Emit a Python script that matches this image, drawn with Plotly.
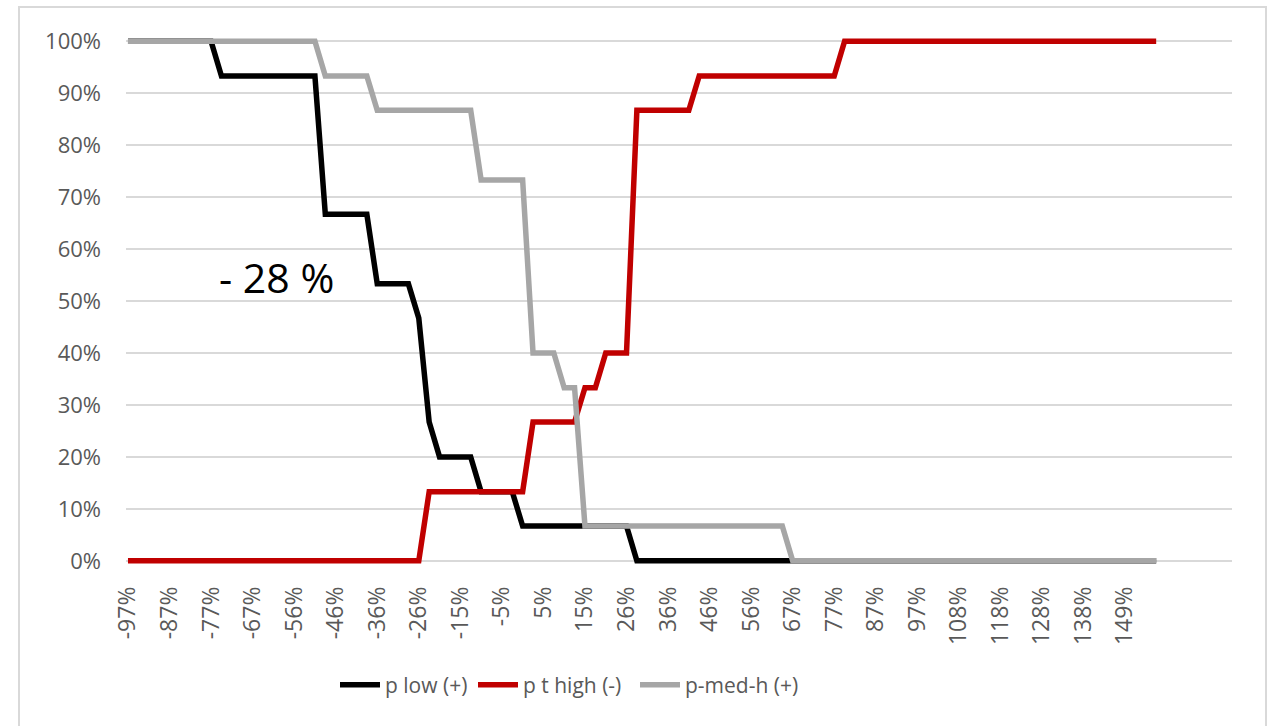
import plotly.graph_objects as go

# Category labels (x values, percent change)
categories = [
    "-97%", "-95%", "-92%", "-90%", "-87%", "-85%", "-82%", "-79%", "-77%", "-74%",
    "-72%", "-69%", "-67%", "-64%", "-62%", "-59%", "-56%", "-54%", "-51%", "-49%",
    "-46%", "-44%", "-41%", "-38%", "-36%", "-33%", "-31%", "-28%", "-26%", "-23%",
    "-21%", "-18%", "-15%", "-13%", "-10%", "-8%", "-5%", "-3%", "0%", "3%",
    "5%", "8%", "10%", "13%", "15%", "18%", "20%", "23%", "26%", "28%",
    "31%", "33%", "36%", "38%", "41%", "44%", "46%", "49%", "51%", "54%",
    "56%", "59%", "61%", "64%", "67%", "69%", "72%", "74%", "77%", "79%",
    "82%", "85%", "87%", "90%", "92%", "95%", "97%", "100%", "102%", "105%",
    "108%", "110%", "113%", "115%", "118%", "120%", "123%", "126%", "128%", "131%",
    "133%", "136%", "138%", "141%", "143%", "146%", "149%", "151%", "154%", "156%",
]

# Tick labels shown on the x axis
tick_labels = [
    "-97%", "-87%", "-77%", "-67%", "-56%", "-46%", "-36%", "-26%", "-15%", "-5%",
    "5%", "15%", "26%", "36%", "46%", "56%", "67%", "77%", "87%", "97%",
    "108%", "118%", "128%", "138%", "149%",
]

p_low = [
    1.0, 1.0, 1.0, 1.0, 1.0, 1.0, 1.0, 1.0, 1.0, 0.933,
    0.933, 0.933, 0.933, 0.933, 0.933, 0.933, 0.933, 0.933, 0.933, 0.667,
    0.667, 0.667, 0.667, 0.667, 0.533, 0.533, 0.533, 0.533, 0.467, 0.267,
    0.2, 0.2, 0.2, 0.2, 0.133, 0.133, 0.133, 0.133, 0.067, 0.067,
    0.067, 0.067, 0.067, 0.067, 0.067, 0.067, 0.067, 0.067, 0.067, 0.0,
    0.0, 0.0, 0.0, 0.0, 0.0, 0.0, 0.0, 0.0, 0.0, 0.0,
    0.0, 0.0, 0.0, 0.0, 0.0, 0.0, 0.0, 0.0, 0.0, 0.0,
    0.0, 0.0, 0.0, 0.0, 0.0, 0.0, 0.0, 0.0, 0.0, 0.0,
    0.0, 0.0, 0.0, 0.0, 0.0, 0.0, 0.0, 0.0, 0.0, 0.0,
    0.0, 0.0, 0.0, 0.0, 0.0, 0.0, 0.0, 0.0, 0.0, 0.0,
]

p_t_high = [
    0.0, 0.0, 0.0, 0.0, 0.0, 0.0, 0.0, 0.0, 0.0, 0.0,
    0.0, 0.0, 0.0, 0.0, 0.0, 0.0, 0.0, 0.0, 0.0, 0.0,
    0.0, 0.0, 0.0, 0.0, 0.0, 0.0, 0.0, 0.0, 0.0, 0.133,
    0.133, 0.133, 0.133, 0.133, 0.133, 0.133, 0.133, 0.133, 0.133, 0.267,
    0.267, 0.267, 0.267, 0.267, 0.333, 0.333, 0.4, 0.4, 0.4, 0.867,
    0.867, 0.867, 0.867, 0.867, 0.867, 0.933, 0.933, 0.933, 0.933, 0.933,
    0.933, 0.933, 0.933, 0.933, 0.933, 0.933, 0.933, 0.933, 0.933, 1.0,
    1.0, 1.0, 1.0, 1.0, 1.0, 1.0, 1.0, 1.0, 1.0, 1.0,
    1.0, 1.0, 1.0, 1.0, 1.0, 1.0, 1.0, 1.0, 1.0, 1.0,
    1.0, 1.0, 1.0, 1.0, 1.0, 1.0, 1.0, 1.0, 1.0, 1.0,
]

p_med_h = [
    1.0, 1.0, 1.0, 1.0, 1.0, 1.0, 1.0, 1.0, 1.0, 1.0,
    1.0, 1.0, 1.0, 1.0, 1.0, 1.0, 1.0, 1.0, 1.0, 0.933,
    0.933, 0.933, 0.933, 0.933, 0.867, 0.867, 0.867, 0.867, 0.867, 0.867,
    0.867, 0.867, 0.867, 0.867, 0.733, 0.733, 0.733, 0.733, 0.733, 0.4,
    0.4, 0.4, 0.333, 0.333, 0.067, 0.067, 0.067, 0.067, 0.067, 0.067,
    0.067, 0.067, 0.067, 0.067, 0.067, 0.067, 0.067, 0.067, 0.067, 0.067,
    0.067, 0.067, 0.067, 0.067, 0.0, 0.0, 0.0, 0.0, 0.0, 0.0,
    0.0, 0.0, 0.0, 0.0, 0.0, 0.0, 0.0, 0.0, 0.0, 0.0,
    0.0, 0.0, 0.0, 0.0, 0.0, 0.0, 0.0, 0.0, 0.0, 0.0,
    0.0, 0.0, 0.0, 0.0, 0.0, 0.0, 0.0, 0.0, 0.0, 0.0,
]

series_names = ["p low (+)", "p t high (-)", "p-med-h (+)"]
series_values = [p_low, p_t_high, p_med_h]
series_colors = ["#000000", "#C00000", "#A6A6A6"]

annotation_text = "- 28 %"

FONT = "Open Sans"
TEXT_GRAY = "#595959"

legend_ids = ["legend", "legend2", "legend3"]
legend_left_px = [335, 473, 635]

fig = go.Figure()
for name, vals, col, lid in zip(series_names, series_values, series_colors, legend_ids):
    fig.add_trace(go.Scatter(
        x=categories, y=vals, name=name, mode="lines",
        line=dict(color=col, width=5.5), legend=lid,
    ))

L, R, T, B = 126, 36, 36, 160
W, H = 1268, 726
pw = W - L - R
ph = H - T - B


def legend_cfg(px):
    return dict(
        orientation="h", x=(px - L) / pw, xanchor="left",
        yref="container", y=1 - 685 / H, yanchor="middle",
        font=dict(family=FONT, size=21, color=TEXT_GRAY),
        itemwidth=40, bgcolor="rgba(0,0,0,0)",
    )


fig.update_layout(
    width=W, height=H,
    margin=dict(l=L, r=R, t=T, b=B, pad=0),
    paper_bgcolor="white", plot_bgcolor="white",
    font=dict(family=FONT, color=TEXT_GRAY, size=21),
    showlegend=True,
    legend=legend_cfg(legend_left_px[0]),
    legend2=legend_cfg(legend_left_px[1]),
    legend3=legend_cfg(legend_left_px[2]),
    xaxis=dict(
        type="category",
        categoryorder="array", categoryarray=categories,
        range=[-0.19, 106.3],
        tickmode="array", tickvals=tick_labels, ticktext=tick_labels,
        tickangle=-90,
        showgrid=False, zeroline=False, showline=False, ticks="",
        tickfont=dict(family=FONT, size=23, color=TEXT_GRAY),
        ticklabelstandoff=15,
    ),
    yaxis=dict(
        range=[-0.01, 1.01],
        tickmode="array",
        tickvals=[0, 0.1, 0.2, 0.3, 0.4, 0.5, 0.6, 0.7, 0.8, 0.9, 1.0],
        tickformat=".0%",
        showgrid=True, gridcolor="#D9D9D9", gridwidth=1.6,
        zeroline=False, showline=False, ticks="",
        tickfont=dict(family=FONT, size=22, color=TEXT_GRAY),
        ticklabelstandoff=24,
    ),
)

fig.add_annotation(
    text=annotation_text,
    xref="paper", yref="paper",
    x=(276 - L) / pw, y=(H - B - 277) / ph,
    xanchor="center", yanchor="middle",
    showarrow=False,
    font=dict(family=FONT, size=41, color="#000000"),
)

# chart-area border
fig.add_shape(
    type="rect", xref="paper", yref="paper",
    x0=(19 - L) / pw, x1=(1266 - L) / pw,
    y0=(H - B - 740) / ph, y1=(H - B - 7) / ph,
    line=dict(color="#D9D9D9", width=2), fillcolor="rgba(0,0,0,0)",
    layer="below",
)

fig.write_html("out.html")
